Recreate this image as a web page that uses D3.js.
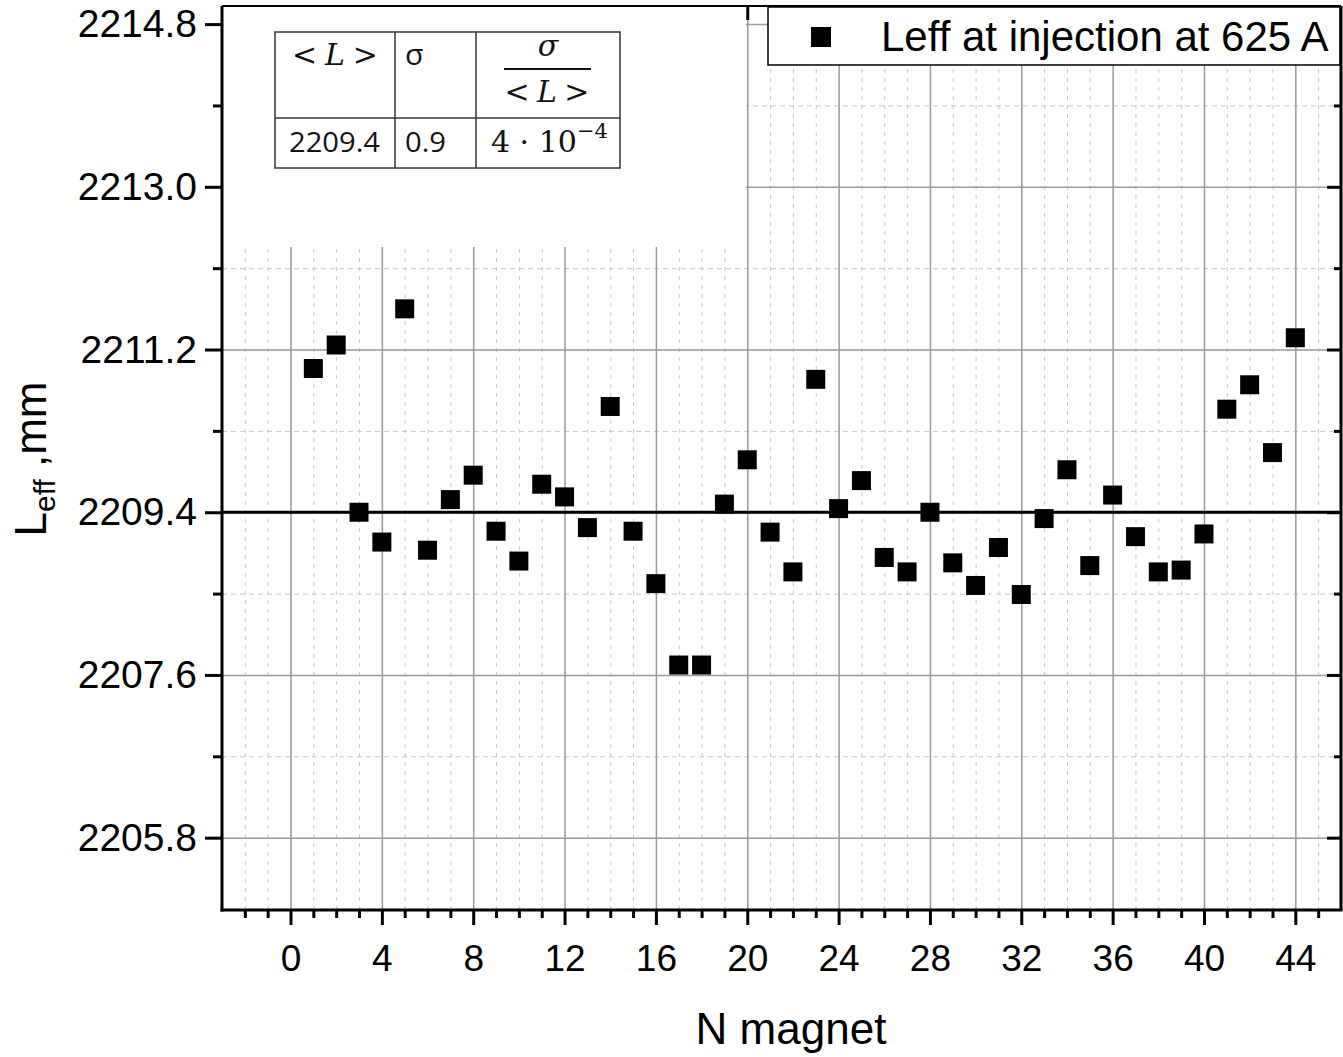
<!DOCTYPE html>
<html>
<head>
<meta charset="utf-8">
<script src="https://cdn.jsdelivr.net/npm/d3@7"></script>
<style>
  html, body { margin: 0; padding: 0; background: #fff; }
  svg { display: block; }
</style>
</head>
<body>
<svg id="chart" width="1343" height="1057"></svg>
<script>
// ---------------- data ----------------
const magnetN = [1, 2, 3, 4, 5, 6, 7, 8, 9, 10, 11, 12, 13, 14, 15, 16, 17, 18, 19, 20, 21, 22,
                 23, 24, 25, 26, 27, 28, 29, 30, 31, 32, 33, 34, 35, 36, 37, 38, 39, 40, 41, 42, 43, 44];
const leffValues = [2210.99, 2211.25, 2209.40, 2209.07, 2211.65, 2208.98, 2209.54, 2209.81, 2209.19, 2208.86,
                    2209.71, 2209.57, 2209.23, 2210.57, 2209.19, 2208.61, 2207.71, 2207.71, 2209.49, 2209.98,
                    2209.18, 2208.74, 2210.87, 2209.44, 2209.75, 2208.90, 2208.74, 2209.40, 2208.84, 2208.59,
                    2209.01, 2208.49, 2209.33, 2209.87, 2208.81, 2209.59, 2209.13, 2208.74, 2208.76, 2209.16,
                    2210.54, 2210.81, 2210.06, 2211.33];
const meanLeff = 2209.4;
const xMajorTicks = [0, 4, 8, 12, 16, 20, 24, 28, 32, 36, 40, 44];
const xMinorTicks = [-2, -1, 1, 2, 3, 5, 6, 7, 9, 10, 11, 13, 14, 15, 17, 18, 19, 21, 22, 23, 25, 26, 27,
                     29, 30, 31, 33, 34, 35, 37, 38, 39, 41, 42, 43, 45];
const yMajorTicks = [2205.8, 2207.6, 2209.4, 2211.2, 2213.0, 2214.8];
const yMinorTicks = [2206.7, 2208.5, 2210.3, 2212.1, 2213.9];
const xDomain = [-3, 46];
const yDomain = [2205, 2215];
const legendLabel = "Leff at injection at 625 A";
const xTitle = "N magnet";
const tableMean = "2209.4";
const tableSigma = "0.9";

// ---------------- layout ----------------
const pL = 222, pR = 1341, pT = 6, pB = 910;
const svg = d3.select("#chart");
const x = d3.scaleLinear().domain(xDomain).range([pL, pR]);
const y = d3.scaleLinear().domain(yDomain).range([pB, pT]);
const FONT = "'Liberation Sans', Arial, sans-serif";

// ---------------- grid ----------------
const grid = svg.append("g");
grid.append("g").attr("transform", `translate(0,${pB})`)
  .call(d3.axisBottom(x).tickValues(xMinorTicks).tickSize(-(pB - pT)).tickFormat(""))
  .call(g => g.select(".domain").remove())
  .call(g => g.selectAll("line").attr("stroke", "#c8c8c8").attr("stroke-width", 1).attr("stroke-dasharray", "4,5"));
grid.append("g").attr("transform", `translate(${pL},0)`)
  .call(d3.axisLeft(y).tickValues(yMinorTicks).tickSize(-(pR - pL)).tickFormat(""))
  .call(g => g.select(".domain").remove())
  .call(g => g.selectAll("line").attr("stroke", "#c8c8c8").attr("stroke-width", 1).attr("stroke-dasharray", "5,4"));
grid.append("g").attr("transform", `translate(0,${pB})`)
  .call(d3.axisBottom(x).tickValues(xMajorTicks).tickSize(-(pB - pT)).tickFormat(""))
  .call(g => g.select(".domain").remove())
  .call(g => g.selectAll("line").attr("stroke", "#999").attr("stroke-width", 1.5));
grid.append("g").attr("transform", `translate(${pL},0)`)
  .call(d3.axisLeft(y).tickValues(yMajorTicks).tickSize(-(pR - pL)).tickFormat(""))
  .call(g => g.select(".domain").remove())
  .call(g => g.selectAll("line").attr("stroke", "#999").attr("stroke-width", 1.5));

// mean line
svg.append("line")
  .attr("x1", pL).attr("x2", pR)
  .attr("y1", y(meanLeff)).attr("y2", y(meanLeff))
  .attr("stroke", "#000").attr("stroke-width", 3);

// ---------------- top & right axes (inward ticks) ----------------
function styleAxis(g, w) {
  g.select(".domain").remove();
  g.selectAll("line").attr("stroke", "#000").attr("stroke-width", w);
}
svg.append("g").attr("transform", `translate(0,${pT})`)
  .call(d3.axisBottom(x).tickValues(xMajorTicks).tickSize(14).tickFormat(""))
  .call(g => styleAxis(g, 3));
svg.append("g").attr("transform", `translate(0,${pT})`)
  .call(d3.axisBottom(x).tickValues(xMinorTicks).tickSize(7).tickFormat(""))
  .call(g => styleAxis(g, 3));
svg.append("g").attr("transform", `translate(${pR},0)`)
  .call(d3.axisLeft(y).tickValues(yMajorTicks).tickSize(14).tickFormat(""))
  .call(g => styleAxis(g, 3));
svg.append("g").attr("transform", `translate(${pR},0)`)
  .call(d3.axisLeft(y).tickValues(yMinorTicks).tickSize(7).tickFormat(""))
  .call(g => styleAxis(g, 3));

// ---------------- table inset ----------------
svg.append("rect").attr("x", pL + 1).attr("y", pT + 1)
  .attr("width", 745 - pL).attr("height", 246 - pT).attr("fill", "#fff");

const tbl = svg.append("g");
const tX = [275, 395, 476, 620], tY = [32, 118, 168];
tbl.append("rect").attr("x", tX[0]).attr("y", tY[0])
  .attr("width", tX[3] - tX[0]).attr("height", tY[2] - tY[0])
  .attr("fill", "none").attr("stroke", "#333").attr("stroke-width", 1.5);
[tX[1], tX[2]].forEach(v => tbl.append("line").attr("x1", v).attr("x2", v)
  .attr("y1", tY[0]).attr("y2", tY[2]).attr("stroke", "#333").attr("stroke-width", 1.5));
tbl.append("line").attr("x1", tX[0]).attr("x2", tX[3]).attr("y1", tY[1]).attr("y2", tY[1])
  .attr("stroke", "#333").attr("stroke-width", 1.5);

const SERIF = "'DejaVu Serif', 'Liberation Serif', serif";
const SANS2 = "'Open Sans', 'Lato', sans-serif";
function angleL(g, cx, baseline, w) {
  const t = g.append("text").attr("x", cx).attr("y", baseline).attr("text-anchor", "middle")
    .attr("font-family", SERIF).attr("font-size", 30).attr("fill", "#111")
    .attr("textLength", w).attr("lengthAdjust", "spacing");
  t.append("tspan").text("< ");
  t.append("tspan").attr("font-style", "italic").text("L");
  t.append("tspan").text(" >");
}
angleL(tbl, 335, 65, 86);
tbl.append("text").attr("x", 405).attr("y", 65).attr("font-family", SANS2)
  .attr("font-size", 30).attr("fill", "#111").text("σ");
tbl.append("text").attr("x", 548).attr("y", 56).attr("text-anchor", "middle")
  .attr("font-family", SERIF).attr("font-style", "italic").attr("font-size", 30).attr("fill", "#111").text("σ");
tbl.append("line").attr("x1", 504).attr("x2", 591).attr("y1", 69).attr("y2", 69)
  .attr("stroke", "#111").attr("stroke-width", 2);
angleL(tbl, 547, 102, 85);
tbl.append("text").attr("x", 289).attr("y", 152).attr("font-family", SANS2)
  .attr("font-size", 28).attr("fill", "#111").attr("textLength", 91).attr("lengthAdjust", "spacingAndGlyphs")
  .text(tableMean);
tbl.append("text").attr("x", 405).attr("y", 152).attr("font-family", SANS2)
  .attr("font-size", 28).attr("fill", "#111").attr("textLength", 41).attr("lengthAdjust", "spacingAndGlyphs")
  .text(tableSigma);
const rel = tbl.append("text").attr("x", 491).attr("y", 152).attr("font-family", SERIF)
  .attr("font-size", 30).attr("fill", "#111");
rel.append("tspan").text("4 · 10");
rel.append("tspan").attr("dy", -14).attr("font-size", 21).text("−4");

// ---------------- legend ----------------
const lg = svg.append("g");
lg.append("rect").attr("x", 768).attr("y", 7).attr("width", pR - 768 - 1).attr("height", 58)
  .attr("fill", "#fff").attr("stroke", "#000").attr("stroke-width", 1.5);
lg.append("path").attr("transform", "translate(821,37)")
  .attr("d", d3.symbol(d3.symbolSquare, 20 * 20)()).attr("fill", "#000");
lg.append("text").attr("x", 881).attr("y", 51).attr("font-family", FONT)
  .attr("font-size", 42).attr("fill", "#000").text(legendLabel);

// ---------------- frame lines ----------------
svg.append("line").attr("x1", pL).attr("x2", pR).attr("y1", pT).attr("y2", pT)
  .attr("stroke", "#000").attr("stroke-width", 2);
svg.append("line").attr("x1", pR).attr("x2", pR).attr("y1", pT).attr("y2", pB)
  .attr("stroke", "#000").attr("stroke-width", 3);

// ---------------- bottom & left axes ----------------
svg.append("g").attr("transform", `translate(0,${pB})`)
  .call(d3.axisBottom(x).tickValues(xMinorTicks).tickSize(8).tickFormat(""))
  .call(g => styleAxis(g, 3));
const xAxisMaj = svg.append("g").attr("transform", `translate(0,${pB})`)
  .call(d3.axisBottom(x).tickValues(xMajorTicks).tickSize(15).tickPadding(20).tickFormat(d3.format("d")));
styleAxis(xAxisMaj, 3);
xAxisMaj.selectAll("text").attr("font-family", FONT).attr("font-size", 37).attr("fill", "#000");

svg.append("g").attr("transform", `translate(${pL},0)`)
  .call(d3.axisLeft(y).tickValues(yMinorTicks).tickSize(9).tickFormat(""))
  .call(g => styleAxis(g, 3));
const yAxisMaj = svg.append("g").attr("transform", `translate(${pL},0)`)
  .call(d3.axisLeft(y).tickValues(yMajorTicks).tickSize(17).tickPadding(8).tickFormat(d3.format(".1f")));
styleAxis(yAxisMaj, 3);
yAxisMaj.selectAll("text").attr("font-family", FONT).attr("font-size", 39).attr("fill", "#000");

svg.append("line").attr("x1", pL).attr("x2", pL).attr("y1", pT).attr("y2", pB + 1.5)
  .attr("stroke", "#000").attr("stroke-width", 3);
svg.append("line").attr("x1", pL - 1.5).attr("x2", pR + 1.5).attr("y1", pB).attr("y2", pB)
  .attr("stroke", "#000").attr("stroke-width", 3);

// ---------------- points ----------------
svg.append("g").selectAll("path").data(magnetN.map((n, i) => ({ n, v: leffValues[i] })))
  .join("path")
  .attr("transform", d => `translate(${x(d.n)},${y(d.v)})`)
  .attr("d", d3.symbol(d3.symbolSquare, 19 * 19)())
  .attr("fill", "#000");

// ---------------- titles ----------------
svg.append("text").attr("x", 791).attr("y", 1044).attr("text-anchor", "middle")
  .attr("font-family", FONT).attr("font-size", 44).attr("fill", "#000").text(xTitle);

const yt = svg.append("text").attr("transform", "translate(46,459) rotate(-90)")
  .attr("text-anchor", "middle").attr("font-family", FONT).attr("font-size", 44).attr("fill", "#000");
yt.append("tspan").text("L");
yt.append("tspan").attr("font-size", 30).attr("dy", 9).text("eff");
yt.append("tspan").attr("dy", -9).text(" ,mm");
</script>
</body>
</html>
